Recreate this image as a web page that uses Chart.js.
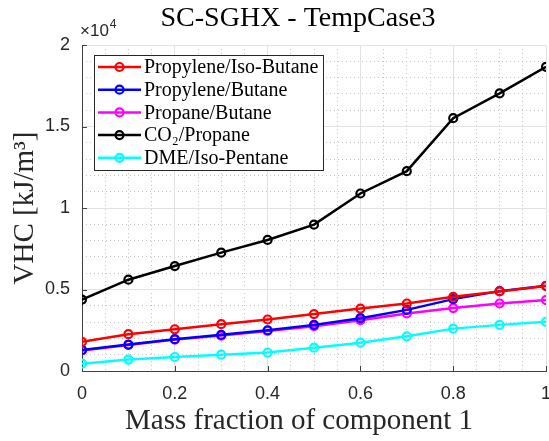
<!DOCTYPE html>
<html><head><meta charset="utf-8">
<script src="https://cdn.jsdelivr.net/npm/chart.js@4/dist/chart.umd.min.js"></script>
<style>html,body{margin:0;padding:0;background:#fff}#wrap{width:549px;height:441px}</style>
</head><body><div id="wrap"><canvas id="c" width="549" height="441"></canvas></div>
<script>
const massFraction = [0, 0.1, 0.2, 0.3, 0.4, 0.5, 0.6, 0.7, 0.8, 0.9, 1];
const propyleneIsoButane = [1790, 2260, 2560, 2870, 3160, 3490, 3830, 4140, 4550, 4880, 5210];
const propyleneButane    = [1290, 1620, 1950, 2220, 2500, 2830, 3240, 3750, 4410, 4900, 5230];
const propaneButane      = [1260, 1600, 1930, 2170, 2460, 2750, 3120, 3530, 3860, 4140, 4350];
const co2Propane         = [4380, 5600, 6440, 7260, 8040, 8980, 10890, 12260, 15510, 17030, 18660];
const dmeIsoPentane      = [450, 700, 860, 1000, 1130, 1430, 1740, 2130, 2600, 2830, 3020];
const seriesLabels = ['Propylene/Iso-Butane', 'Propylene/Butane', 'Propane/Butane', 'CO\u2082/Propane', 'DME/Iso-Pentane'];
const seriesColors = ['#ff0000', '#0000ff', '#ff00ff', '#000000', '#00ffff'];
const xTickLabels = ['0', '0.2', '0.4', '0.6', '0.8', '1'];
const yTickLabels = ['0', '0.5', '1', '1.5', '2'];
const chartTitle = 'SC-SGHX - TempCase3';
const xTitle = 'Mass fraction of component 1';
const yTitle = 'VHC [kJ/m\u00B3]';
const yExponent = '4';

const seriesValues = [propyleneIsoButane, propyleneButane, propaneButane, co2Propane, dmeIsoPentane];

const datasets = seriesValues.map((vals, k) => ({
  label: seriesLabels[k],
  data: massFraction.map((x, i) => ({x: x, y: vals[i]})),
  borderColor: seriesColors[k],
  backgroundColor: 'rgba(0,0,0,0)',
  pointBorderColor: seriesColors[k],
  pointBackgroundColor: 'rgba(0,0,0,0)',
  borderWidth: 2.5,
  pointRadius: 4,
  pointBorderWidth: 2.2,
  tension: 0
}));

const AXIS = '#404040';
const SERIF = '"Liberation Serif", "Times New Roman", serif';
const SANS = '"Liberation Sans", Arial, sans-serif';

const decor = {
  id: 'decor',
  beforeDatasetsDraw(chart) {
    const ctx = chart.ctx, a = chart.chartArea;
    const xs = chart.scales.x, ys = chart.scales.y;
    ctx.save();
    ctx.strokeStyle = AXIS; ctx.lineWidth = 1;
    ctx.beginPath();
    xs.ticks.forEach(t => { const p = Math.round(xs.getPixelForValue(t.value)) + 0.5; ctx.moveTo(p, a.bottom); ctx.lineTo(p, a.bottom - 5); });
    ys.ticks.forEach(t => { const p = Math.round(ys.getPixelForValue(t.value)) + 0.5; ctx.moveTo(a.left, p); ctx.lineTo(a.left + 5, p); });
    ctx.stroke();
    ctx.restore();
  },
  afterDraw(chart) {
    const ctx = chart.ctx, a = chart.chartArea;
    ctx.save();
    ctx.fillStyle = '#000';
    ctx.font = '28px ' + SERIF;
    ctx.textAlign = 'center'; ctx.textBaseline = 'middle';
    ctx.fillText(chartTitle, 298, 19);
    ctx.fillStyle = '#262626';
    ctx.font = '29px ' + SERIF;
    ctx.fillText(xTitle, 299, 421);
    ctx.save();
    ctx.translate(25, 208);
    ctx.rotate(-Math.PI / 2);
    ctx.fillText(yTitle, 0, 0);
    ctx.restore();
    ctx.font = '17px ' + SANS;
    ctx.textAlign = 'left'; ctx.textBaseline = 'alphabetic';
    ctx.fillText('\u00D710', 80, 36);
    const w = ctx.measureText('\u00D710').width;
    ctx.font = '12px ' + SANS;
    ctx.fillText(yExponent, 80 + w + 1, 28);
    const bx = 94, by = 55, bw = 229, bh = 115;
    ctx.fillStyle = '#fff';
    ctx.fillRect(bx, by, bw, bh);
    ctx.strokeStyle = '#262626'; ctx.lineWidth = 1;
    ctx.strokeRect(bx + 0.5, by + 0.5, bw, bh);
    ctx.font = '20px ' + SERIF;
    ctx.textBaseline = 'middle';
    chart.data.datasets.forEach((ds, i) => {
      const yy = 67 + i * 22.7;
      ctx.strokeStyle = ds.borderColor; ctx.lineWidth = 2.5;
      ctx.beginPath(); ctx.moveTo(98, yy); ctx.lineTo(141, yy); ctx.stroke();
      ctx.lineWidth = 2.2;
      ctx.beginPath(); ctx.arc(119.5, yy, 4, 0, Math.PI * 2); ctx.stroke();
      ctx.fillStyle = '#000';
      ctx.fillText(ds.label, 144, yy + 1);
    });
    ctx.restore();
  }
};

const zeroPad = s => { s.paddingLeft = 0; s.paddingRight = 0; s.paddingTop = 0; s.paddingBottom = 0; };

new Chart(document.getElementById('c'), {
  type: 'line',
  data: { datasets: datasets },
  plugins: [decor],
  options: {
    responsive: false,
    animation: false,
    devicePixelRatio: 1,
    layout: { autoPadding: false, padding: { top: 45, right: 3, left: 0, bottom: 0 } },
    plugins: { legend: { display: false }, title: { display: false }, tooltip: { enabled: false } },
    scales: {
      xMinor: {
        type: 'linear', axis: 'x', position: 'bottom', min: 0, max: 1,
        ticks: { display: false, stepSize: 0.05 },
        grid: { drawTicks: false, color: ctx => (Math.abs(Math.round(ctx.tick.value * 5) - ctx.tick.value * 5) < 1e-6 ? 'rgba(0,0,0,0)' : '#c4c4c4'), lineWidth: 1 },
        border: { display: false, dash: [1, 3] },
        afterFit: s => { s.height = 0; zeroPad(s); }
      },
      yMinor: {
        type: 'linear', axis: 'y', position: 'left', min: 0, max: 20000,
        ticks: { display: false, stepSize: 1000 },
        grid: { drawTicks: false, color: ctx => (ctx.tick.value % 5000 === 0 ? 'rgba(0,0,0,0)' : '#c4c4c4'), lineWidth: 1 },
        border: { display: false, dash: [1, 3] },
        afterFit: s => { s.width = 0; zeroPad(s); }
      },
      x: {
        type: 'linear', position: 'bottom', min: 0, max: 1,
        ticks: { stepSize: 0.2, padding: 12, color: '#262626', font: { family: SANS, size: 18 },
                 callback: (v, i) => xTickLabels[i] },
        grid: { drawTicks: false, color: '#e2e2e2', lineWidth: 1 },
        border: { display: true, color: AXIS, width: 1 },
        afterFit: s => { s.height = 70; zeroPad(s); }
      },
      y: {
        type: 'linear', position: 'left', min: 0, max: 20000,
        ticks: { stepSize: 5000, padding: 12, color: '#262626', font: { family: SANS, size: 18 },
                 callback: (v, i) => yTickLabels[i] },
        grid: { drawTicks: false, color: '#e2e2e2', lineWidth: 1 },
        border: { display: true, color: AXIS, width: 1 },
        afterFit: s => { s.width = 82; zeroPad(s); }
      }
    }
  }
});
</script>
</body></html>
